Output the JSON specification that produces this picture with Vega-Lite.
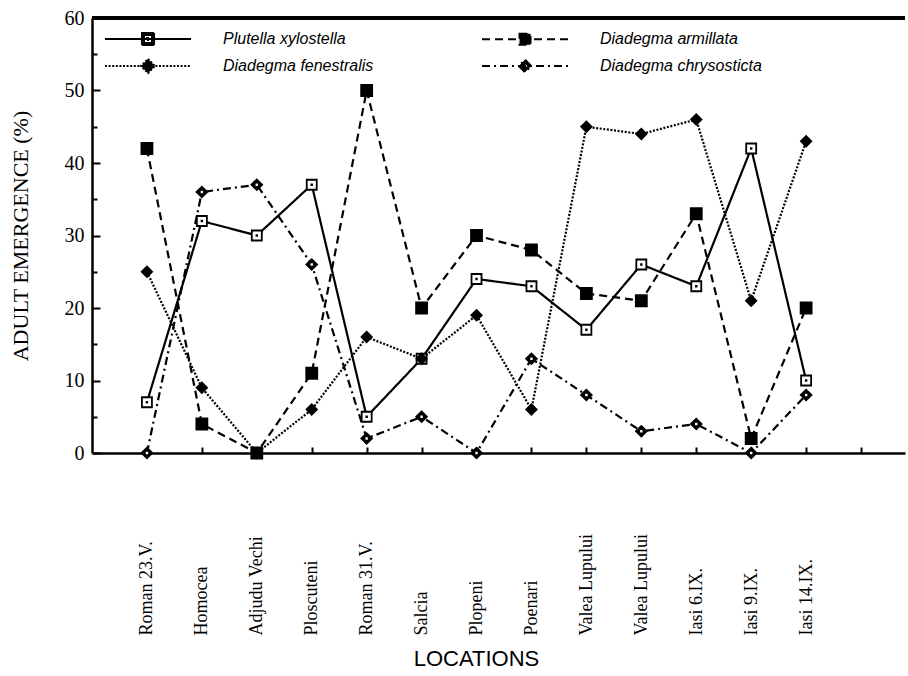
{
  "$schema": "https://vega.github.io/schema/vega-lite/v6.json",
  "autosize": "none",
  "width": 813,
  "height": 435,
  "padding": {"left": 92, "top": 18, "right": 3, "bottom": 223},
  "background": "white",
  "config": {"view": {"stroke": null}},
  "data": {"values": [
    {"i": 1, "loc": "Roman 23.V.", "series": "Plutella xylostella", "v": 7},
    {"i": 2, "loc": "Homocea", "series": "Plutella xylostella", "v": 32},
    {"i": 3, "loc": "Adjudu Vechi", "series": "Plutella xylostella", "v": 30},
    {"i": 4, "loc": "Ploscuteni", "series": "Plutella xylostella", "v": 37},
    {"i": 5, "loc": "Roman 31.V.", "series": "Plutella xylostella", "v": 5},
    {"i": 6, "loc": "Salcia", "series": "Plutella xylostella", "v": 13},
    {"i": 7, "loc": "Plopeni", "series": "Plutella xylostella", "v": 24},
    {"i": 8, "loc": "Poenari", "series": "Plutella xylostella", "v": 23},
    {"i": 9, "loc": "Valea Lupului", "series": "Plutella xylostella", "v": 17},
    {"i": 10, "loc": "Valea Lupului", "series": "Plutella xylostella", "v": 26},
    {"i": 11, "loc": "Iasi 6.IX.", "series": "Plutella xylostella", "v": 23},
    {"i": 12, "loc": "Iasi 9.IX.", "series": "Plutella xylostella", "v": 42},
    {"i": 13, "loc": "Iasi 14.IX.", "series": "Plutella xylostella", "v": 10},
    {"i": 1, "loc": "Roman 23.V.", "series": "Diadegma armillata", "v": 42},
    {"i": 2, "loc": "Homocea", "series": "Diadegma armillata", "v": 4},
    {"i": 3, "loc": "Adjudu Vechi", "series": "Diadegma armillata", "v": 0},
    {"i": 4, "loc": "Ploscuteni", "series": "Diadegma armillata", "v": 11},
    {"i": 5, "loc": "Roman 31.V.", "series": "Diadegma armillata", "v": 50},
    {"i": 6, "loc": "Salcia", "series": "Diadegma armillata", "v": 20},
    {"i": 7, "loc": "Plopeni", "series": "Diadegma armillata", "v": 30},
    {"i": 8, "loc": "Poenari", "series": "Diadegma armillata", "v": 28},
    {"i": 9, "loc": "Valea Lupului", "series": "Diadegma armillata", "v": 22},
    {"i": 10, "loc": "Valea Lupului", "series": "Diadegma armillata", "v": 21},
    {"i": 11, "loc": "Iasi 6.IX.", "series": "Diadegma armillata", "v": 33},
    {"i": 12, "loc": "Iasi 9.IX.", "series": "Diadegma armillata", "v": 2},
    {"i": 13, "loc": "Iasi 14.IX.", "series": "Diadegma armillata", "v": 20},
    {"i": 1, "loc": "Roman 23.V.", "series": "Diadegma fenestralis", "v": 25},
    {"i": 2, "loc": "Homocea", "series": "Diadegma fenestralis", "v": 9},
    {"i": 3, "loc": "Adjudu Vechi", "series": "Diadegma fenestralis", "v": 0},
    {"i": 4, "loc": "Ploscuteni", "series": "Diadegma fenestralis", "v": 6},
    {"i": 5, "loc": "Roman 31.V.", "series": "Diadegma fenestralis", "v": 16},
    {"i": 6, "loc": "Salcia", "series": "Diadegma fenestralis", "v": 13},
    {"i": 7, "loc": "Plopeni", "series": "Diadegma fenestralis", "v": 19},
    {"i": 8, "loc": "Poenari", "series": "Diadegma fenestralis", "v": 6},
    {"i": 9, "loc": "Valea Lupului", "series": "Diadegma fenestralis", "v": 45},
    {"i": 10, "loc": "Valea Lupului", "series": "Diadegma fenestralis", "v": 44},
    {"i": 11, "loc": "Iasi 6.IX.", "series": "Diadegma fenestralis", "v": 46},
    {"i": 12, "loc": "Iasi 9.IX.", "series": "Diadegma fenestralis", "v": 21},
    {"i": 13, "loc": "Iasi 14.IX.", "series": "Diadegma fenestralis", "v": 43},
    {"i": 1, "loc": "Roman 23.V.", "series": "Diadegma chrysosticta", "v": 0},
    {"i": 2, "loc": "Homocea", "series": "Diadegma chrysosticta", "v": 36},
    {"i": 3, "loc": "Adjudu Vechi", "series": "Diadegma chrysosticta", "v": 37},
    {"i": 4, "loc": "Ploscuteni", "series": "Diadegma chrysosticta", "v": 26},
    {"i": 5, "loc": "Roman 31.V.", "series": "Diadegma chrysosticta", "v": 2},
    {"i": 6, "loc": "Salcia", "series": "Diadegma chrysosticta", "v": 5},
    {"i": 7, "loc": "Plopeni", "series": "Diadegma chrysosticta", "v": 0},
    {"i": 8, "loc": "Poenari", "series": "Diadegma chrysosticta", "v": 13},
    {"i": 9, "loc": "Valea Lupului", "series": "Diadegma chrysosticta", "v": 8},
    {"i": 10, "loc": "Valea Lupului", "series": "Diadegma chrysosticta", "v": 3},
    {"i": 11, "loc": "Iasi 6.IX.", "series": "Diadegma chrysosticta", "v": 4},
    {"i": 12, "loc": "Iasi 9.IX.", "series": "Diadegma chrysosticta", "v": 0},
    {"i": 13, "loc": "Iasi 14.IX.", "series": "Diadegma chrysosticta", "v": 8}
  ]},
  "encoding": {
    "x": {
      "field": "i", "type": "quantitative",
      "scale": {"domain": [0, 14.8], "nice": false, "zero": false},
      "axis": {
        "values": [1,2,3,4,5,6,7,8,9,10,11,12,13,14],
        "labelExpr": "['', 'Roman 23.V.', 'Homocea', 'Adjudu Vechi', 'Ploscuteni', 'Roman 31.V.', 'Salcia', 'Plopeni', 'Poenari', 'Valea Lupului', 'Valea Lupului', 'Iasi 6.IX.', 'Iasi 9.IX.', 'Iasi 14.IX.', ''][datum.value]",
        "labelAngle": 270,
        "labelAlign": "left",
        "labelBaseline": "middle",
        "labelPadding": 188,
        "labelFont": "Liberation Serif",
        "labelFontSize": 18,
        "labelColor": "black",
        "labelOverlap": false,
        "labelFlush": false,
        "tickSize": -6,
        "tickWidth": 2,
        "tickColor": "black",
        "domainWidth": 2.5,
        "domainColor": "black",
        "grid": false,
        "title": "LOCATIONS",
        "titleFont": "Liberation Sans",
        "titleFontSize": 22,
        "titleFontWeight": "normal",
        "titleColor": "black",
        "titlePadding": 13,
        "titleX": 384
      }
    },
    "y": {
      "field": "v", "type": "quantitative",
      "scale": {"domain": [0, 60], "nice": false},
      "axis": {
        "values": [0,5,10,15,20,25,30,35,40,45,50,55,60],
        "labelExpr": "datum.value % 10 === 0 ? datum.label : ''",
        "labelFont": "Liberation Serif",
        "labelFontSize": 20,
        "labelColor": "black",
        "labelPadding": 16,
        "tickSize": {"condition": {"test": "datum.value % 10 === 0", "value": -8}, "value": -5},
        "tickWidth": 2,
        "tickColor": "black",
        "domainWidth": 2.5,
        "domainColor": "black",
        "grid": false,
        "title": "ADULT EMERGENCE (%)",
        "titleFont": "Liberation Serif",
        "titleFontSize": 22,
        "titleFontWeight": "normal",
        "titleColor": "black",
        "titlePadding": 32
      }
    }
  },
  "layer": [
    {
      "mark": {"type": "rule", "color": "black", "strokeWidth": 2.5},
      "encoding": {"y": {"datum": 60}, "x": null}
    },
    {
      "mark": {"type": "line", "color": "black", "strokeWidth": 2.2},
      "encoding": {
        "strokeDash": {
          "field": "series", "type": "nominal",
          "scale": {
            "domain": ["Plutella xylostella", "Diadegma fenestralis", "Diadegma armillata", "Diadegma chrysosticta"],
            "range": [[1, 0], [2, 1.6], [8, 5], [8, 4, 2, 4]]
          },
          "legend": {
            "orient": "none",
            "legendX": 48,
            "legendY": 13,
            "columns": 2,
            "title": null,
            "padding": 0,
            "symbolSize": 100,
            "symbolStrokeWidth": 2,
            "symbolStrokeColor": "black",
            "symbolFillColor": "black",
            "symbolOpacity": 1,
            "symbolType": {"expr": "datum.value === 'Plutella xylostella' ? 'M-8.6,0H8.6M-1.2,-1.2H1.2V1.2H-1.2ZM-0.8,-0.8V0.8H0.8V-0.8ZM-0.2,-0.2H0.2V0.2H-0.2Z' : datum.value === 'Diadegma armillata' ? 'M-8.6,0H8.6M-1.1,-1.1H1.1V1.1H-1.1Z' : datum.value === 'Diadegma fenestralis' ? 'M-8.6,0H8.6M0,-1.4L1.4,0L0,1.4L-1.4,0Z' : 'M-8.6,0H8.6M0,-1.25L1.25,0L0,1.25L-1.25,0ZM0,-0.45L-0.45,0L0,0.45L0.45,0Z'"},
            "labelFont": "Liberation Sans",
            "labelFontStyle": "italic",
            "labelFontSize": 16,
            "labelColor": "black",
            "labelLimit": 400,
            "labelOffset": 67,
            "columnPadding": 104,
            "rowPadding": 6
          }
        }
      }
    },
    {
      "mark": {"type": "point", "filled": true, "opacity": 1, "stroke": "black", "strokeWidth": 1.8},
      "encoding": {
        "shape": {
          "field": "series", "type": "nominal",
          "scale": {
            "domain": ["Diadegma armillata", "Diadegma chrysosticta", "Diadegma fenestralis", "Plutella xylostella"],
            "range": ["square", "diamond", "diamond", "square"]
          },
          "legend": null
        },
        "size": {
          "field": "series", "type": "nominal",
          "scale": {
            "domain": ["Diadegma armillata", "Diadegma chrysosticta", "Diadegma fenestralis", "Plutella xylostella"],
            "range": [121, 100, 144, 64]
          },
          "legend": null
        },
        "fill": {
          "field": "series", "type": "nominal",
          "scale": {
            "domain": ["Diadegma armillata", "Diadegma chrysosticta", "Diadegma fenestralis", "Plutella xylostella"],
            "range": ["black", "black", "black", "white"]
          },
          "legend": null
        }
      }
    },
    {
      "transform": [{"filter": "datum.series === 'Plutella xylostella' || datum.series === 'Diadegma chrysosticta'"}],
      "mark": {"type": "square", "size": 6, "opacity": 1},
      "encoding": {
        "color": {
          "field": "series", "type": "nominal",
          "scale": {
            "domain": ["Plutella xylostella", "Diadegma chrysosticta"],
            "range": ["black", "white"]
          },
          "legend": null
        }
      }
    }
  ]
}
